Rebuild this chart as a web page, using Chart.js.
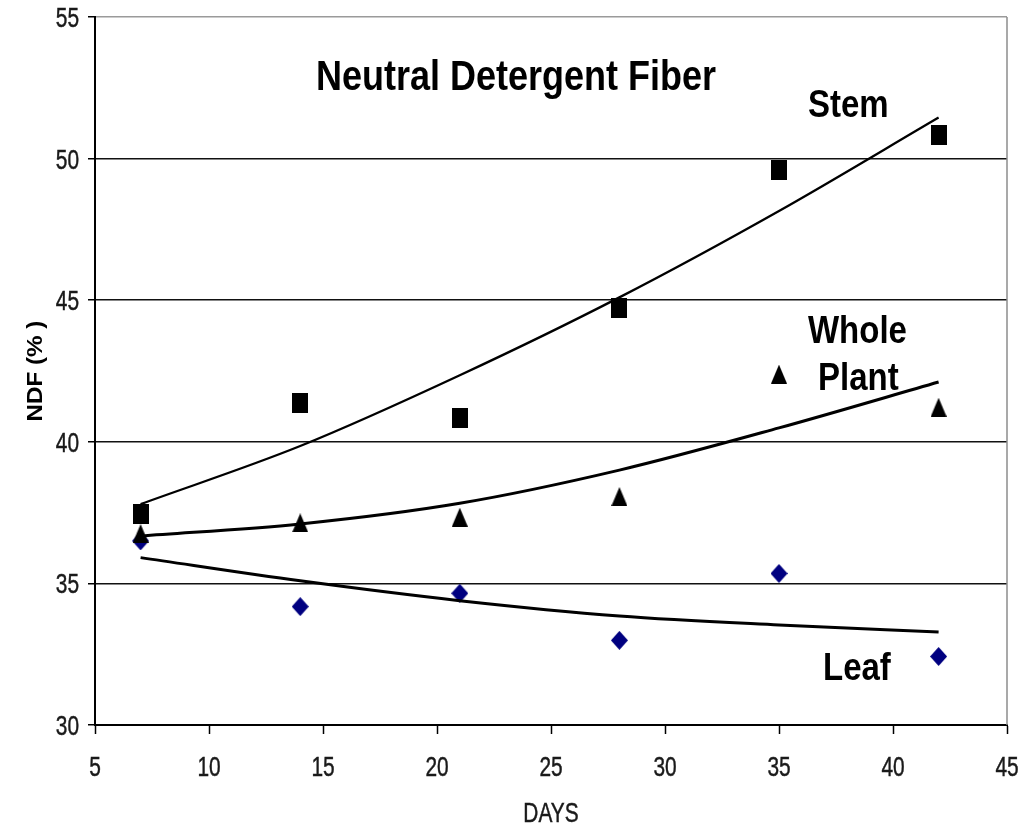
<!DOCTYPE html>
<html>
<head>
<meta charset="utf-8">
<title>Neutral Detergent Fiber</title>
<script src="https://cdn.jsdelivr.net/npm/chart.js@4"></script>
<style>
  html, body { margin: 0; padding: 0; background: #fff; }
  canvas { display: block; }
</style>
</head>
<body>
<canvas id="ndf" width="1021" height="828"></canvas>
<script>
// sampling days
const days = [7, 14, 21, 28, 35, 42];

// measured NDF (%)
const stem = [37.44, 41.36, 40.85, 44.72, 49.61, 50.82];
const wholePlant = [36.76, 37.14, 37.34, 38.07, 42.39, 41.22];
const leaf = [36.5, 34.18, 34.65, 32.99, 35.35, 32.42];

// trend lines
const stemTrend = [37.8, 39.85, 42.35, 45.1, 48.15, 51.45];
const wholePlantTrend = [36.67, 37.1, 37.83, 39.0, 40.49, 42.11];
const leafTrend = [35.91, 35.09, 34.39, 33.85, 33.53, 33.28];

// axis ticks and titles
const xTicks = [5, 10, 15, 20, 25, 30, 35, 40, 45];
const yTicks = [30, 35, 40, 45, 50, 55];
const xTitle = 'DAYS';
const yTitle = 'NDF (% )';

// text inside the plot, anchored in data units (left, baseline)
const notes = [
  { text: 'Neutral Detergent Fiber', x: 14.69, y: 52.42, size: 36 },
  { text: 'Stem', x: 36.27, y: 51.48, size: 33 },
  { text: 'Whole', x: 36.27, y: 43.49, size: 33 },
  { text: 'Plant', x: 36.71, y: 41.83, size: 33 },
  { text: 'Leaf', x: 36.93, y: 31.59, size: 33 }
];

const SANS = '"Liberation Sans", Arial, sans-serif';
const pts = (ys) => days.map((d, i) => ({ x: d, y: ys[i] }));

function marker(shape, w, h, color) {
  const c = document.createElement('canvas');
  c.width = w;
  c.height = h;
  const g = c.getContext('2d');
  g.fillStyle = color;
  g.beginPath();
  if (shape === 'square') {
    g.rect(0, 0, w, h);
  } else if (shape === 'triangle') {
    g.moveTo(w / 2, 0);
    g.lineTo(w, h);
    g.lineTo(0, h);
  } else {
    g.moveTo(w / 2, 0);
    g.lineTo(w, h / 2);
    g.lineTo(w / 2, h);
    g.lineTo(0, h / 2);
  }
  g.closePath();
  g.fill();
  return c;
}

// draw text squeezed/stretched like the original figure
function drawText(ctx, text, x, y, font, sx, sy, align, rot, weight) {
  ctx.save();
  ctx.translate(x, y);
  if (rot) ctx.rotate(rot);
  ctx.scale(sx, sy);
  ctx.font = font;
  ctx.textAlign = align;
  ctx.textBaseline = 'alphabetic';
  ctx.fillText(text, 0, 0);
  if (weight) {
    ctx.lineWidth = weight;
    ctx.strokeStyle = ctx.fillStyle;
    ctx.strokeText(text, 0, 0);
  }
  ctx.restore();
}

const plotFrame = {
  id: 'plotFrame',
  beforeDatasetsDraw(chart) {
    const { ctx, chartArea: a } = chart;
    ctx.save();
    ctx.strokeStyle = '#8c8c8c';
    ctx.lineWidth = 1.5;
    ctx.beginPath();
    ctx.moveTo(a.right, a.top);
    ctx.lineTo(a.right, a.bottom);
    ctx.stroke();
    ctx.restore();
  }
};

const textPlugin = {
  id: 'figText',
  afterDraw(chart) {
    const { ctx, scales, chartArea: a } = chart;
    ctx.save();
    ctx.fillStyle = '#1a1a1a';
    xTicks.forEach(v => {
      drawText(ctx, String(v), scales.x.getPixelForValue(v), a.bottom + 51,
        '24px ' + SANS, 0.87, 1.17, 'center', 0, 0.4);
    });
    yTicks.forEach(v => {
      drawText(ctx, String(v), a.left - 16, scales.y.getPixelForValue(v) + 10,
        '24px ' + SANS, 0.87, 1.17, 'right', 0, 0.4);
    });
    drawText(ctx, xTitle, (a.left + a.right) / 2, a.bottom + 97,
      '24px ' + SANS, 0.87, 1.17, 'center', 0, 0.4);
    ctx.fillStyle = '#000';
    drawText(ctx, yTitle, 42, (a.top + a.bottom) / 2,
      'bold 22px ' + SANS, 1.1, 1, 'center', -Math.PI / 2);
    notes.forEach(n => {
      drawText(ctx, n.text, scales.x.getPixelForValue(n.x), scales.y.getPixelForValue(n.y),
        'bold ' + n.size + 'px ' + SANS, 1, 1.18, 'left');
    });
    ctx.restore();
  }
};

const trend = (ys, w, order) => ({
  type: 'line',
  data: pts(ys),
  borderColor: '#000',
  borderWidth: w,
  pointRadius: 0,
  fill: false,
  cubicInterpolationMode: 'monotone',
  order: order
});

new Chart(document.getElementById('ndf'), {
  type: 'scatter',
  data: {
    datasets: [
      trend(stemTrend, 2.3, 1),
      trend(wholePlantTrend, 3, 2),
      trend(leafTrend, 3, 3),
      { label: 'Stem', data: pts(stem), pointStyle: marker('square', 16, 20, '#000'), order: 4 },
      { label: 'Whole Plant', data: pts(wholePlant), pointStyle: marker('triangle', 16, 19, '#000'), order: 5 },
      { label: 'Leaf', data: pts(leaf), pointStyle: marker('diamond', 17, 19, '#000080'), order: 6 }
    ]
  },
  options: {
    responsive: false,
    animation: false,
    layout: { padding: { top: 17, right: 14, left: 0, bottom: 0 } },
    plugins: {
      legend: { display: false },
      tooltip: { enabled: false }
    },
    scales: {
      x: {
        type: 'linear',
        min: 5,
        max: 45,
        afterBuildTicks: s => { s.ticks = xTicks.map(v => ({ value: v })); },
        afterFit: s => { s.height = 103; },
        grid: { drawOnChartArea: false, drawTicks: true, tickLength: 9, tickColor: '#000', tickWidth: 1.5 },
        border: { display: true, color: '#000', width: 2 },
        ticks: { display: false }
      },
      y: {
        type: 'linear',
        min: 30,
        max: 55,
        afterBuildTicks: s => { s.ticks = yTicks.map(v => ({ value: v })); },
        afterFit: s => { s.width = 95; },
        grid: {
          color: c => (c.tick && c.tick.value === 55 ? '#9a9a9a' : '#111'),
          lineWidth: 1.5,
          tickLength: 7,
          tickColor: '#000'
        },
        border: { display: true, color: '#000', width: 2 },
        ticks: { display: false }
      }
    }
  },
  plugins: [plotFrame, textPlugin]
});
</script>
</body>
</html>
